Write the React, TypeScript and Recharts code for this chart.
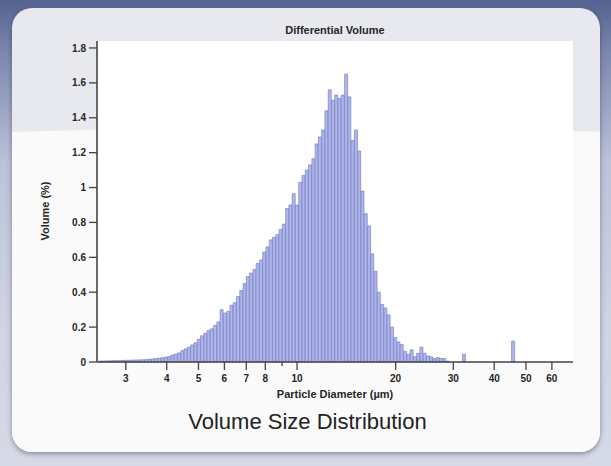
import React from 'react';
import { ComposedChart, Bar, XAxis, YAxis, CartesianGrid } from 'recharts';

// bin centres (µm), log spaced
const diameters = [
  2.512, 2.570, 2.630, 2.692, 2.754, 2.818, 2.884, 2.951, 3.020, 3.090,
  3.162, 3.236, 3.311, 3.388, 3.467, 3.548, 3.631, 3.715, 3.802, 3.890,
  3.981, 4.074, 4.169, 4.266, 4.365, 4.467, 4.571, 4.677, 4.786, 4.898,
  5.012, 5.129, 5.248, 5.370, 5.495, 5.623, 5.754, 5.888, 6.026, 6.166,
  6.310, 6.457, 6.607, 6.761, 6.918, 7.079, 7.244, 7.413, 7.586, 7.762,
  7.943, 8.128, 8.318, 8.511, 8.710, 8.913, 9.120, 9.333, 9.550, 9.772,
  10.00, 10.23, 10.47, 10.72, 10.96, 11.22, 11.48, 11.75, 12.02, 12.30,
  12.59, 12.88, 13.18, 13.49, 13.80, 14.13, 14.45, 14.79, 15.14, 15.49,
  15.85, 16.22, 16.60, 16.98, 17.38, 17.78, 18.20, 18.62, 19.05, 19.50,
  19.95, 20.42, 20.89, 21.38, 21.88, 22.39, 22.91, 23.44, 23.99, 24.55,
  25.12, 25.70, 26.30, 26.92, 27.54, 28.18, 28.84, 32.36, 45.71,
];

// volume (%)
const volumes = [
  0.006, 0.006, 0.007, 0.007, 0.008, 0.008, 0.009, 0.009, 0.010, 0.010,
  0.011, 0.012, 0.012, 0.013, 0.014, 0.016, 0.018, 0.020, 0.022, 0.025,
  0.028, 0.032, 0.040, 0.045, 0.052, 0.065, 0.075, 0.085, 0.098, 0.110,
  0.130, 0.150, 0.165, 0.180, 0.190, 0.210, 0.230, 0.300, 0.280, 0.290,
  0.325, 0.340, 0.375, 0.410, 0.450, 0.490, 0.510, 0.530, 0.565, 0.585,
  0.630, 0.660, 0.700, 0.715, 0.730, 0.760, 0.790, 0.880, 0.900, 0.965,
  0.900, 1.030, 1.070, 1.100, 1.130, 1.165, 1.250, 1.290, 1.330, 1.440,
  1.560, 1.500, 1.530, 1.510, 1.530, 1.650, 1.520, 1.270, 1.330, 1.210,
  0.980, 0.850, 0.780, 0.620, 0.520, 0.400, 0.330, 0.310, 0.270, 0.200,
  0.140, 0.115, 0.100, 0.060, 0.045, 0.070, 0.030, 0.050, 0.085, 0.050,
  0.035, 0.030, 0.020, 0.025, 0.020, 0.020, 0.005, 0.045, 0.120,
];

const xTicks = [3, 4, 5, 6, 7, 8, 9, 10, 20, 30, 40, 50, 60];
const unlabelledTicks = [9];
const yTicks = [0, 0.2, 0.4, 0.6, 0.8, 1, 1.2, 1.4, 1.6, 1.8];

const data = diameters.map((d, i) => ({ d, v: volumes[i] }));

const FONT = '"Liberation Sans", Arial, sans-serif';
const AXIS = '#454545';
const TEXT = '#262626';

const XTick = (props: any) => {
  const { x, y, payload } = props;
  const minor = unlabelledTicks.includes(payload.value);
  const top = y - 13;
  return (
    <g>
      <line x1={x} x2={x} y1={top} y2={top + (minor ? 4 : 8)} stroke={AXIS} strokeWidth={1.3} />
      {!minor && (
        <text x={x} y={y} dy="0.71em" textAnchor="middle" fontSize={10} fontWeight="bold" fill={TEXT} fontFamily={FONT}>
          {payload.value}
        </text>
      )}
    </g>
  );
};

export default function App() {
  return (
    <div
      style={{
        position: 'absolute',
        left: 0,
        top: 0,
        width: 611,
        height: 466,
        overflow: 'hidden',
        fontFamily: FONT,
        background: 'linear-gradient(180deg, #56628f 0%, #7e89b0 12%, #bcc2d8 35%, #cfd3e2 70%, #d6d9e6 100%)',
      }}
    >
      <div
        style={{
          position: 'absolute',
          left: 12,
          top: 8,
          width: 588,
          height: 444,
          borderRadius: 20,
          overflow: 'hidden',
          background: '#e8e9ee',
          boxShadow: '0 2px 5px rgba(30,40,70,0.45)',
        }}
      >
        <div
          style={{
            position: 'absolute',
            left: -1700,
            top: 119,
            width: 4000,
            height: 900,
            borderRadius: '50%',
            background: '#fafafb',
          }}
        />
      </div>

      <div
        style={{
          position: 'absolute',
          left: 97,
          width: 476,
          top: 23,
          textAlign: 'center',
          fontSize: 11,
          lineHeight: '14px',
          fontWeight: 'bold',
          color: TEXT,
        }}
      >
        Differential Volume
      </div>

      <div
        style={{
          position: 'absolute',
          left: 45 - 50,
          top: 211 - 7,
          width: 100,
          height: 14,
          lineHeight: '14px',
          textAlign: 'center',
          fontSize: 11,
          fontWeight: 'bold',
          color: TEXT,
          transform: 'rotate(-90deg)',
        }}
      >
        Volume (%)
      </div>

      <div style={{ position: 'absolute', left: 0, top: 0 }}>
        <ComposedChart
          width={611}
          height={466}
          data={data}
          margin={{ top: 41, right: 38, bottom: 64, left: 37 }}
          barCategoryGap={0}
          barGap={0}
        >
          <CartesianGrid horizontal={false} vertical={false} fill="#ffffff" />
          <XAxis
            dataKey="d"
            type="number"
            scale="log"
            domain={[2.45, 69.6]}
            allowDataOverflow
            ticks={xTicks}
            interval={0}
            height={40}
            tickSize={8}
            tickMargin={5}
            tickLine={false}
            tick={<XTick />}
            axisLine={{ stroke: AXIS, strokeWidth: 1.6 }}
            label={{
              value: 'Particle Diameter (µm)',
              position: 'insideBottom',
              offset: 4,
              style: { fontSize: 11, fontWeight: 'bold', fill: TEXT, fontFamily: FONT },
            }}
          />
          <XAxis
            xAxisId="top"
            orientation="top"
            type="number"
            domain={[0, 1]}
            height={0}
            tick={false}
            tickLine={false}
            axisLine={{ stroke: AXIS, strokeWidth: 1.6 }}
          />
          <YAxis
            type="number"
            domain={[0, 1.84]}
            ticks={yTicks}
            interval={0}
            width={60}
            tickSize={8}
            tickMargin={3}
            tickLine={{ stroke: AXIS, strokeWidth: 1.3 }}
            axisLine={{ stroke: AXIS, strokeWidth: 1.6 }}
            tick={{ fontSize: 10, fontWeight: 'bold', fill: TEXT, fontFamily: FONT }}
          />
          <YAxis
            yAxisId="right"
            orientation="right"
            width={0}
            tick={false}
            tickLine={false}
            axisLine={{ stroke: AXIS, strokeWidth: 1.6 }}
          />
          <Bar dataKey="v" fill="#b1b7e8" stroke="#6873c2" strokeWidth={0.6} isAnimationActive={false} />
        </ComposedChart>
      </div>

      <div
        style={{
          position: 'absolute',
          left: 2,
          width: 611,
          top: 409,
          textAlign: 'center',
          fontSize: 22,
          lineHeight: '26px',
          color: '#222',
        }}
      >
        Volume Size Distribution
      </div>
    </div>
  );
}
